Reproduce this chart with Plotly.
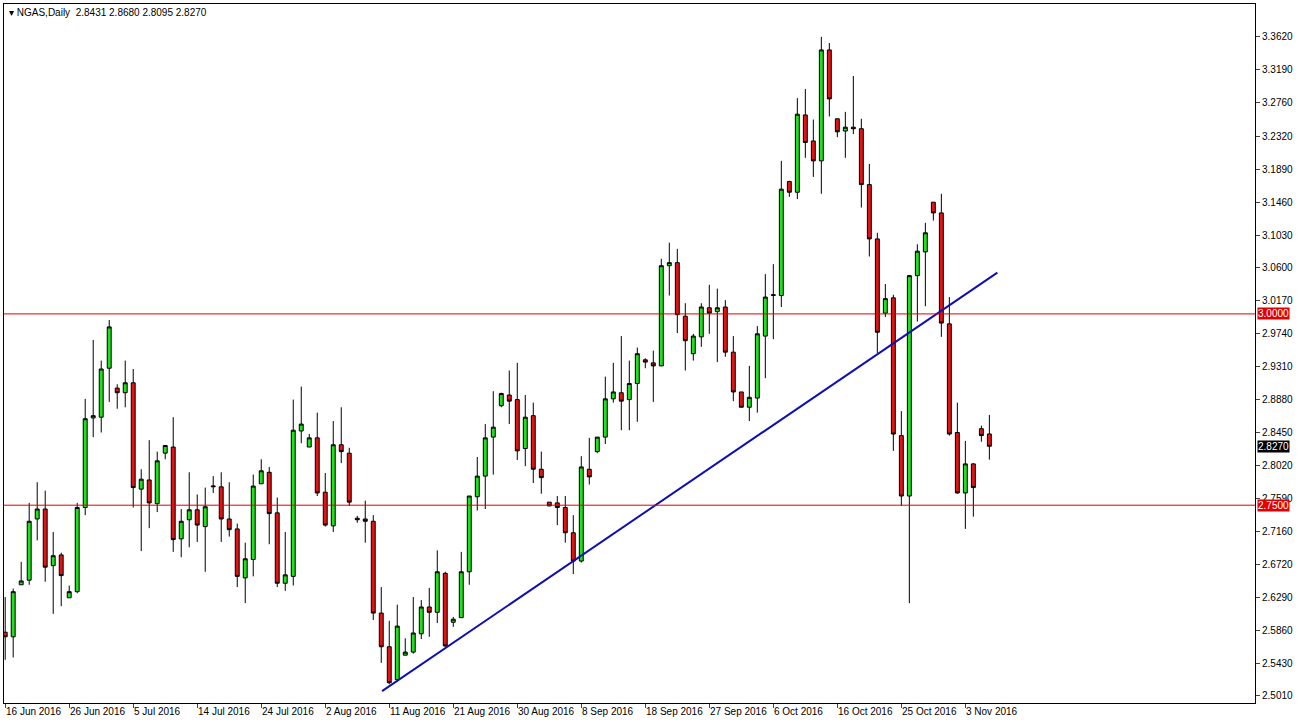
import plotly.graph_objects as go

opens = [2.584,2.578,2.646,2.652,2.732,2.745,2.671,2.685,2.629,2.637,2.747,2.864,2.865,2.929,2.903,2.897,2.910,2.771,2.783,2.752,
 2.818,2.826,2.706,2.731,2.744,2.722,2.774,2.774,2.732,2.719,2.655,2.679,2.778,2.793,2.740,2.648,2.657,2.847,2.826,2.838,
 2.767,2.723,2.829,2.818,2.733,2.732,2.729,2.609,2.565,2.522,2.554,2.558,2.582,2.617,2.610,2.661,2.597,2.603,2.663,2.761,
 2.788,2.839,2.880,2.894,2.888,2.824,2.867,2.797,2.754,2.753,2.747,2.714,2.677,2.797,2.820,2.839,2.889,2.897,2.888,2.909,
 2.940,2.936,2.932,3.063,3.067,2.997,2.948,2.970,3.008,3.003,3.009,2.950,2.898,2.878,2.890,2.971,3.024,3.024,3.173,3.159,
 3.260,3.226,3.200,3.345,3.255,3.239,3.244,3.242,3.169,3.098,3.001,3.021,2.841,2.762,3.050,3.081,3.146,3.132,2.987,2.845,
 2.766,2.804,2.850,2.8431]
highs = [2.630,2.641,2.676,2.753,2.780,2.769,2.715,2.688,2.645,2.753,2.889,2.966,2.939,2.992,2.908,2.939,2.928,2.797,2.835,2.820,
 2.828,2.865,2.745,2.793,2.764,2.773,2.788,2.793,2.780,2.726,2.701,2.790,2.810,2.800,2.760,2.715,2.888,2.905,2.843,2.871,
 2.792,2.860,2.878,2.825,2.736,2.756,2.737,2.643,2.599,2.620,2.576,2.630,2.626,2.642,2.691,2.663,2.604,2.689,2.762,2.813,
 2.856,2.899,2.897,2.926,2.936,2.894,2.884,2.820,2.754,2.762,2.762,2.737,2.814,2.838,2.839,2.918,2.936,2.971,2.939,2.956,
 2.942,2.952,3.072,3.093,3.085,3.014,2.974,3.014,3.038,3.033,3.018,2.971,2.898,2.932,2.984,3.052,3.065,3.200,3.174,3.282,
 3.294,3.254,3.362,3.354,3.255,3.264,3.311,3.255,3.196,3.106,3.039,3.025,2.873,3.051,3.091,3.119,3.146,3.157,3.022,2.884,
 2.834,2.805,2.854,2.8680]
lows = [2.548,2.551,2.646,2.646,2.704,2.650,2.608,2.618,2.629,2.635,2.737,2.839,2.845,2.885,2.876,2.878,2.747,2.690,2.720,2.741,
 2.810,2.689,2.682,2.695,2.702,2.663,2.766,2.702,2.709,2.643,2.622,2.657,2.778,2.699,2.643,2.638,2.645,2.831,2.826,2.762,
 2.722,2.715,2.805,2.749,2.727,2.701,2.600,2.544,2.516,2.519,2.554,2.556,2.575,2.578,2.596,2.565,2.591,2.603,2.646,2.743,
 2.745,2.790,2.878,2.856,2.809,2.801,2.779,2.765,2.749,2.724,2.701,2.660,2.675,2.777,2.818,2.830,2.884,2.848,2.848,2.859,
 2.929,2.885,2.932,3.024,2.975,2.926,2.939,2.957,2.974,2.937,2.944,2.886,2.878,2.860,2.871,2.916,2.967,3.009,3.153,3.150,
 3.204,3.179,3.157,3.258,3.231,3.204,3.235,3.139,3.075,2.949,2.996,2.821,2.749,2.622,2.990,3.010,3.122,2.970,2.841,2.765,
 2.719,2.735,2.833,2.8095]
closes = [2.578,2.637,2.651,2.729,2.745,2.669,2.684,2.658,2.637,2.747,2.863,2.867,2.928,2.983,2.897,2.910,2.773,2.784,2.753,2.808,
 2.828,2.705,2.729,2.744,2.724,2.748,2.775,2.732,2.718,2.657,2.680,2.775,2.795,2.739,2.648,2.659,2.848,2.856,2.838,2.766,
 2.724,2.829,2.820,2.754,2.731,2.729,2.609,2.565,2.518,2.592,2.558,2.583,2.617,2.610,2.663,2.566,2.601,2.663,2.762,2.788,
 2.838,2.852,2.896,2.886,2.821,2.865,2.797,2.786,2.749,2.747,2.714,2.677,2.800,2.787,2.839,2.889,2.898,2.886,2.909,2.948,
 2.937,2.932,3.063,3.067,2.999,2.965,2.971,3.009,3.001,3.008,2.950,2.898,2.878,2.891,2.974,3.022,3.025,3.163,3.159,3.261,
 3.224,3.200,3.345,3.281,3.238,3.244,3.242,3.169,3.098,2.976,3.020,2.843,2.762,3.050,3.082,3.106,3.132,2.988,2.843,2.766,
 2.804,2.773,2.841,2.8270]

date_labels = ["16 Jun 2016","26 Jun 2016","5 Jul 2016","14 Jul 2016","24 Jul 2016","2 Aug 2016","11 Aug 2016",
               "21 Aug 2016","30 Aug 2016","8 Sep 2016","18 Sep 2016","27 Sep 2016","6 Oct 2016","16 Oct 2016",
               "25 Oct 2016","3 Nov 2016"]
label_bars = [0,8,16,24,32,40,48,56,64,72,80,88,96,104,112,120]
price_ticks = [3.3620,3.3190,3.2760,3.2320,3.1890,3.1460,3.1030,3.0600,3.0170,2.9740,2.9310,2.8880,2.8450,
               2.8020,2.7590,2.7160,2.6720,2.6290,2.5860,2.5430,2.5010]
levels = [3.0000, 2.7500]
trend_x = [47.1, 124.0]
trend_y = [2.507, 3.054]
last_price = 2.8270

FONT = "Liberation Sans"
idx = list(range(len(opens)))
fig = go.Figure()
fig.add_trace(go.Candlestick(
    x=idx, open=opens, high=highs, low=lows, close=closes,
    increasing=dict(fillcolor="#22e01e", line=dict(color="black", width=1)),
    decreasing=dict(fillcolor="#e01414", line=dict(color="black", width=1)),
    whiskerwidth=0, showlegend=False, hoverinfo="skip"))
fig.add_trace(go.Scatter(x=trend_x, y=trend_y, mode="lines",
                         line=dict(color="#1010b0", width=2), showlegend=False, hoverinfo="skip"))
for lv in levels:
    fig.add_shape(type="line", xref="paper", x0=0, x1=1, yref="y", y0=lv, y1=lv,
                  line=dict(color="#e00000", width=1))
    fig.add_annotation(xref="paper", x=1.0, y=lv, yref="y", text=f"{lv:.4f}", showarrow=False,
                       xanchor="left", bgcolor="#e00000", font=dict(color="white", size=10, family=FONT),
                       borderpad=0, xshift=2)
fig.add_annotation(xref="paper", x=1.0, y=last_price, yref="y", text=f"{last_price:.4f}", showarrow=False,
                   xanchor="left", bgcolor="black", font=dict(color="white", size=10, family=FONT),
                   borderpad=0, xshift=2)
for b, t in zip(label_bars, date_labels):
    fig.add_annotation(x=b, xref="x", y=0, yref="paper", yanchor="top", xanchor="left", text=t,
                       showarrow=False, font=dict(size=10, family=FONT, color="black"), yshift=-1, xshift=-1)
fig.add_annotation(xref="paper", yref="paper", x=0.002, y=0.998, xanchor="left", yanchor="top",
                   text=f"▾ NGAS,Daily  {opens[-1]:.4f} {highs[-1]:.4f} {lows[-1]:.4f} {closes[-1]:.4f}",
                   showarrow=False, font=dict(size=10, family=FONT, color="black"))

fig.update_layout(
    width=1299, height=723, paper_bgcolor="white", plot_bgcolor="white",
    margin=dict(l=4, r=44, t=4, b=20, autoexpand=False),
    xaxis=dict(range=[-0.15, 156.2], rangeslider=dict(visible=False), showgrid=False, automargin=False,
               tickvals=label_bars, ticktext=[""]*len(label_bars), ticks="outside", ticklen=4,
               showline=True, linecolor="black", mirror=True, zeroline=False),
    yaxis=dict(range=[2.4915, 3.405], side="right", tickvals=price_ticks, automargin=False,
               ticktext=[f"{v:.4f}" for v in price_ticks], ticks="outside", ticklen=4,
               showgrid=False, showline=True, linecolor="black", mirror=True, zeroline=False,
               tickfont=dict(size=10, family=FONT, color="black")),
)
fig.write_html("out.html", config={"displayModeBar": False},
               post_script="document.body.style.margin='0';document.body.style.overflow='hidden';")
